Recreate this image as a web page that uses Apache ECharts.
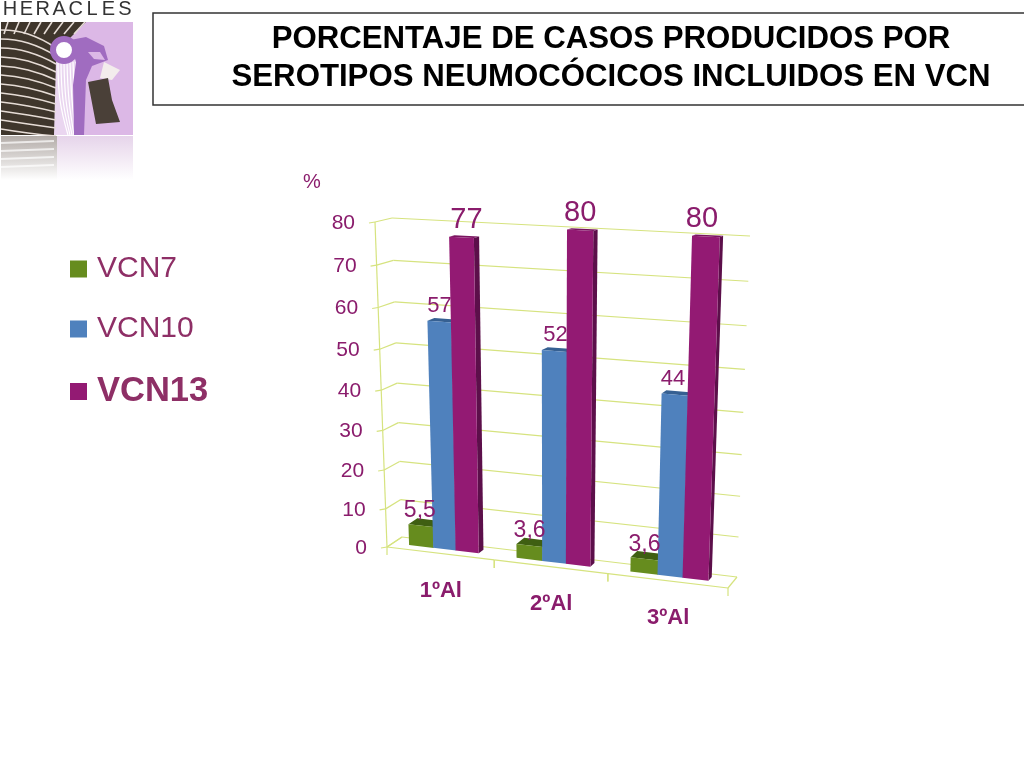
<!DOCTYPE html>
<html>
<head>
<meta charset="utf-8">
<style>html,body{margin:0;padding:0;background:#fff}#chart{width:1024px;height:768px}</style>
<script src="https://cdn.jsdelivr.net/npm/echarts@6/dist/echarts.min.js"></script>
</head>
<body>
<div id="chart"></div>
<script>
const titleText = 'PORCENTAJE DE CASOS PRODUCIDOS POR\nSEROTIPOS NEUMOCÓCICOS INCLUIDOS EN VCN';
const categories = ['1ºAl', '2ºAl', '3ºAl'];
const yTicks = [0, 10, 20, 30, 40, 50, 60, 70, 80];
const vcn7 = [5.5, 3.6, 3.6];
const vcn10 = [57, 52, 44];
const vcn13 = [77, 80, 80];

const TEXT = '#8a1c6c';
const FONT = '"Liberation Sans", Arial, sans-serif';
const GRIDLINE = '#d6e37f';

// corners of the tilted plot box, the flat hidden grid gets warped onto these
const FRONT = { tl: [375, 222], bl: [387, 547], br: [728, 588], tr: [741, 240] };
const BACK = { tl: [392, 218], bl: [402, 537], br: [737, 577], tr: [750, 236] };

const mix = (a, b, t) => [a[0] + (b[0] - a[0]) * t, a[1] + (b[1] - a[1]) * t];
const plane = (p, u, v) => mix(mix(p.bl, p.br, u), mix(p.tl, p.tr, u), v);
// small bend in u and v fakes the perspective foreshortening
const warp = (u, v, d) => {
  const uu = u - 0.085 * u * (1 - u);
  const vv = v - 0.07 * v * (1 - v);
  return mix(plane(FRONT, uu, vv), plane(BACK, uu, vv), d);
};

// unit position inside the hidden grid, from the axis scales
const unit = (params, api, cat, value) => {
  const cs = params.coordSys;
  const pt = api.coord([cat, value]);
  const band = api.size([1, 0])[0];
  return { u: (pt[0] - band / 2 - cs.x) / cs.width, v: 1 - (pt[1] - cs.y) / cs.height, band: band / cs.width };
};

const quad = (pts, fill, z2) => ({ type: 'polygon', z2, shape: { points: pts }, style: { fill } });
const seg = (a, b, z2) => ({ type: 'line', z2, shape: { x1: a[0], y1: a[1], x2: b[0], y2: b[1] }, style: { stroke: GRIDLINE, lineWidth: 1.2 } });

const renderWall = (params, api) => {
  const m = unit(params, api, 0, api.value(0));
  const v = m.v;
  const f = warp(0, v, 0), b = warp(0, v, 1), r = warp(1, v, 1);
  return {
    type: 'group',
    children: [
      seg([f[0] - 6, f[1] + 1], f, 0),
      seg(f, b, 0),
      seg(b, r, 0),
      {
        type: 'text', z2: 0,
        style: { text: String(api.value(0)), x: f[0] - 20, y: f[1] + 1, align: 'right', verticalAlign: 'middle', fill: TEXT, font: '21px ' + FONT }
      }
    ]
  };
};

const renderFloor = (params, api) => {
  const i = api.value(0);
  const m = unit(params, api, i, 0);
  const a = warp(m.u, 0, 0), b = warp(m.u + m.band, 0, 0);
  const mid = warp(m.u + m.band / 2, 0, 0);
  const children = [
    seg(a, b, 0),
    seg(a, [a[0], a[1] + 8], 0),
    seg(b, [b[0], b[1] + 8], 0),
    {
      type: 'text', z2: 0,
      style: { text: categories[i], x: mid[0] + 1, y: mid[1] + 37.5, align: 'center', verticalAlign: 'middle', fill: TEXT, font: 'bold 22px ' + FONT }
    }
  ];
  if (i === 0) children.push(seg(warp(0, 0, 0), warp(0, 1, 0), 0), seg(warp(0, 0, 1), a, 0));
  if (i === 2) children.push(seg(b, warp(1, 0, 1), 0));
  return { type: 'group', children };
};

const makeBars = (cfg) => (params, api) => {
  const i = api.value(0);
  const val = api.value(1);
  const m = unit(params, api, i, val);
  const u0 = m.u + m.band * cfg.offset;
  const u1 = u0 + m.band * cfg.width;
  const d0 = 0.4, d1 = 0.75;
  const fl = warp(u0, 0, d0), fr = warp(u1, 0, d0);
  const tl = warp(u0, m.v, d0), tr = warp(u1, m.v, d0);
  const bl = warp(u0, m.v, cfg.topDepth), br = warp(u1, m.v, cfg.topDepth);
  const children = [
    quad([bl, br, tr, tl], cfg.top, cfg.z2),
    quad([fl, fr, tr, tl], cfg.front, cfg.z2),
    {
      type: 'text', z2: cfg.labelZ,
      style: {
        text: String(val).replace('.', ','),
        x: (tl[0] + tr[0]) / 2 + cfg.labelDx[i], y: tl[1] + cfg.labelDy,
        align: 'center', verticalAlign: 'middle', fill: TEXT, font: cfg.fontSize + 'px ' + FONT
      }
    }
  ];
  if (cfg.side) {
    children.unshift(quad([fr, warp(u1, 0, d1), warp(u1, m.v, d1), tr], cfg.side, cfg.z2));
  }
  return { type: 'group', children };
};

const barData = (values) => values.map((v, i) => [i, v]);

// Logo stand-in, the reference has a picture here
const logo = [
  { type: 'rect', shape: { x: 1, y: 22, width: 132, height: 113 }, style: { fill: '#dcb8e6' } },
  { type: 'polygon', shape: { points: [[1, 22], [86, 22], [60, 48], [56, 135], [1, 135]] }, style: { fill: '#3f362c' } },
  { type: 'polygon', shape: { points: [[56, 60], [78, 60], [84, 135], [54, 135]] }, style: { fill: '#ead6f0' } }
];
for (let k = 0; k < 12; k++) {
  logo.push({
    type: 'polyline',
    shape: { points: [[1, 30 + k * 9], [28, 34 + k * 9], [56, 48 + k * 8]], smooth: 0.5 },
    style: { stroke: '#e6dcd6', lineWidth: 1.6, fill: null }
  });
}
for (let k = 0; k < 8; k++) {
  logo.push({
    type: 'line',
    shape: { x1: 8 + k * 11, y1: 22, x2: 4 + k * 10, y2: 34 },
    style: { stroke: '#e6dcd6', lineWidth: 1.6 }
  });
  logo.push({
    type: 'polyline',
    shape: { points: [[58 + k * 3, 62], [60 + k * 3, 100], [68 + k * 2, 135]], smooth: 0.4 },
    style: { stroke: '#ffffff', lineWidth: 1.2, fill: null }
  });
}
logo.push(
  { type: 'circle', shape: { cx: 64, cy: 50, r: 11 }, style: { fill: '#fff', stroke: '#a06cc0', lineWidth: 6 } },
  { type: 'polygon', shape: { points: [[70, 40], [86, 37], [104, 46], [108, 60], [92, 66], [86, 80], [84, 135], [74, 135], [73, 85], [76, 62]] }, style: { fill: '#a06cc0' } },
  { type: 'polygon', shape: { points: [[88, 52], [100, 52], [105, 60], [94, 59]] }, style: { fill: '#dcb8e6' } },
  { type: 'polygon', shape: { points: [[104, 62], [120, 70], [112, 80], [100, 78]] }, style: { fill: '#f3ecec' } },
  { type: 'polygon', shape: { points: [[88, 82], [108, 78], [112, 100], [120, 122], [96, 124]] }, style: { fill: '#4a4038' } },
  { type: 'rect', shape: { x: 1, y: 136, width: 56, height: 44 },
    style: { fill: { type: 'linear', x: 0, y: 0, x2: 0, y2: 1, colorStops: [{ offset: 0, color: '#b3aca8' }, { offset: 1, color: '#ffffff' }] } } },
  { type: 'rect', shape: { x: 57, y: 136, width: 76, height: 44 },
    style: { fill: { type: 'linear', x: 0, y: 0, x2: 0, y2: 1, colorStops: [{ offset: 0, color: '#e6d4ea' }, { offset: 1, color: '#ffffff' }] } } }
);
for (let k = 0; k < 4; k++) {
  logo.push({ type: 'line', shape: { x1: 1, y1: 143 + k * 8, x2: 54, y2: 141 + k * 8 }, style: { stroke: '#ffffff', lineWidth: 2, opacity: 0.7 } });
}
'HERACLES'.split('').forEach((ch, k) => {
  logo.push({ type: 'text', style: { text: ch, x: 10 + k * 16.4, y: 9, align: 'center', verticalAlign: 'middle', fill: '#333', font: '20px ' + FONT } });
});

const chart = echarts.init(document.getElementById('chart'));
chart.setOption({
  animation: false,
  backgroundColor: '#fff',
  title: {
    text: titleText,
    left: 606,
    top: 15,
    textAlign: 'center',
    textStyle: { color: '#000', fontFamily: FONT, fontWeight: 'bold', fontSize: 31.2, lineHeight: 38 }
  },
  legend: {
    orient: 'vertical',
    left: 65,
    top: 249,
    icon: 'rect',
    itemWidth: 17,
    itemHeight: 17,
    itemGap: 30,
    selectedMode: false,
    data: [
      { name: 'VCN7', textStyle: { color: '#8e2f66', fontSize: 30, fontFamily: FONT, padding: [0, 0, 0, 5] } },
      { name: 'VCN10', textStyle: { color: '#8e2f66', fontSize: 30, fontFamily: FONT, padding: [0, 0, 0, 5] } },
      { name: 'VCN13', textStyle: { color: '#8e2f66', fontSize: 34.5, fontWeight: 'bold', fontFamily: FONT, padding: [0, 0, 0, 5] } }
    ]
  },
  grid: { left: 387, top: 222, width: 341, height: 325, containLabel: false },
  xAxis: { type: 'category', data: categories, show: false },
  yAxis: { type: 'value', min: 0, max: 80, interval: 10, show: false },
  graphic: [
    { type: 'rect', shape: { x: 153, y: 13, width: 880, height: 92 }, style: { fill: 'none', stroke: '#333', lineWidth: 1.5 } },
    { type: 'text', style: { text: '%', x: 312, y: 182, align: 'center', verticalAlign: 'middle', fill: TEXT, font: '20px ' + FONT } },
    ...logo
  ],
  series: [
    { type: 'custom', name: 'wall', renderItem: renderWall, data: yTicks.map((t) => [t]), encode: { y: 0 }, silent: true },
    { type: 'custom', name: 'floor', renderItem: renderFloor, data: categories.map((c, i) => [i]), encode: { x: 0 }, silent: true },
    { type: 'custom', name: 'VCN7', itemStyle: { color: '#668c1e' }, encode: { x: 0, y: 1 }, data: barData(vcn7),
      renderItem: makeBars({ offset: 0.155, width: 0.235, front: '#668c1e', top: '#3f5f12', topDepth: 1, fontSize: 23, labelDy: -13, labelDx: [-1, 0, 0], z2: 1, labelZ: 9 }) },
    { type: 'custom', name: 'VCN10', itemStyle: { color: '#4f81bd' }, encode: { x: 0, y: 1 }, data: barData(vcn10),
      renderItem: makeBars({ offset: 0.385, width: 0.215, front: '#4f81bd', top: '#366092', topDepth: 0.85, fontSize: 22, labelDy: -15, labelDx: [0, 1, -2], z2: 2, labelZ: 2 }) },
    { type: 'custom', name: 'VCN13', itemStyle: { color: '#931a73' }, encode: { x: 0, y: 1 }, data: barData(vcn13),
      renderItem: makeBars({ offset: 0.595, width: 0.215, front: '#931a73', top: '#7a1560', side: '#5c0f4a', topDepth: 0.75, fontSize: 29, labelDy: -17, labelDx: [5, 0, -4], z2: 3, labelZ: 3 }) }
  ]
});
</script>
</body>
</html>
